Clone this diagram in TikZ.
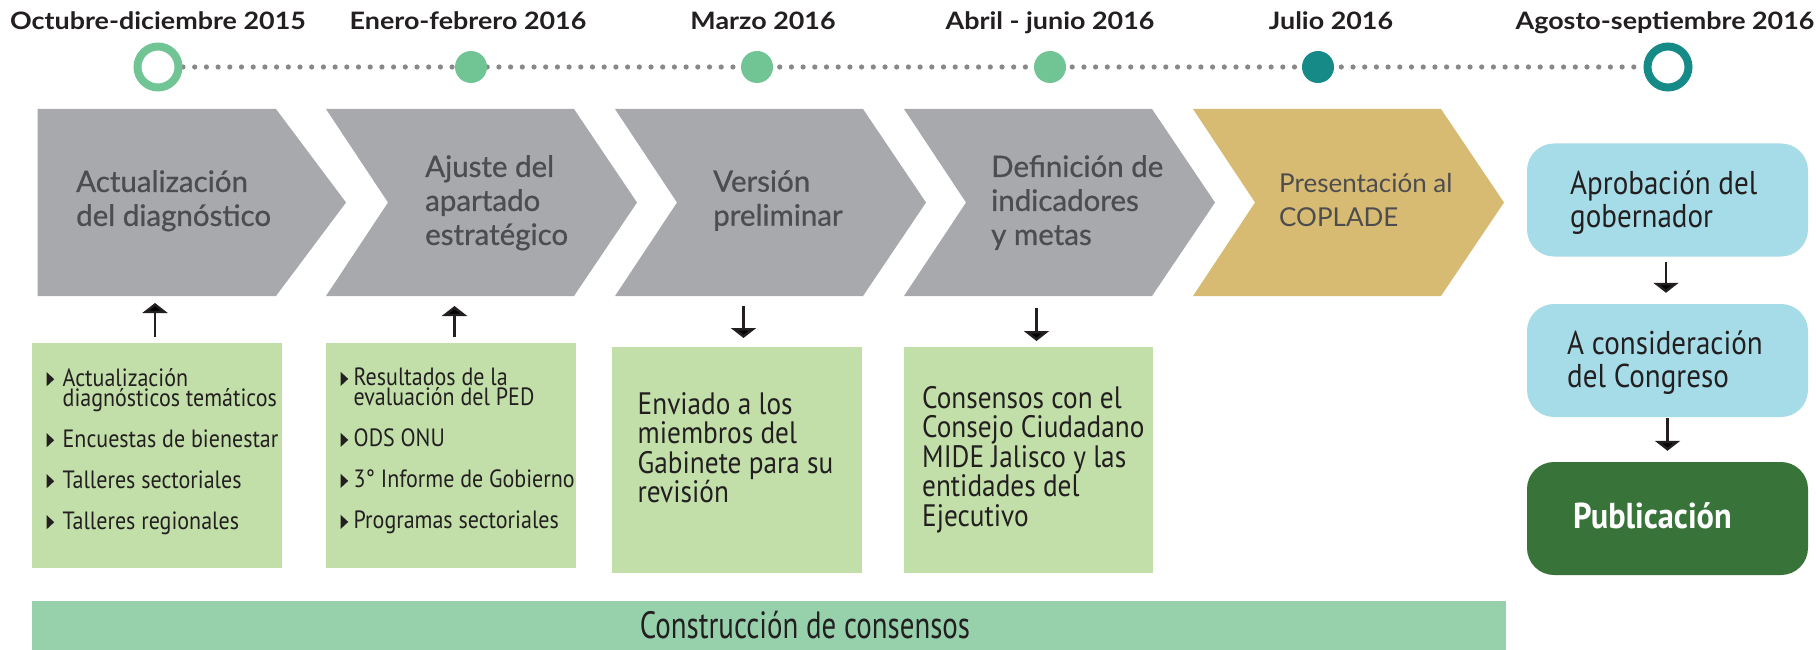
\documentclass[tikz,border=0pt]{standalone}
\usepackage{fontspec}
\setmainfont{Lato}
\newfontfamily\datefont[FakeStretch=1.12]{Lato}
\newfontfamily\chevfont[FakeBold=0.7]{Lato}
\newfontfamily\cond[FakeStretch=0.88]{PT Sans}
\newfontfamily\condwide[FakeStretch=0.76]{PT Sans}
\newfontfamily\condbold[FakeStretch=0.9]{PT Sans}
\usetikzlibrary{arrows.meta}
\definecolor{chgray}{HTML}{A7A9AC}
\definecolor{chtext}{HTML}{4D4D4F}
\definecolor{goldc}{HTML}{D7BB73}
\definecolor{lgreen}{HTML}{C2DFAA}
\definecolor{bargreen}{HTML}{97D1AC}
\definecolor{lblue}{HTML}{A6DCE7}
\definecolor{dgreen}{HTML}{387339}
\definecolor{cgreen}{HTML}{71C594}
\definecolor{tealc}{HTML}{168A87}
\definecolor{dotgray}{HTML}{88888B}
\definecolor{ink}{HTML}{231F20}
\newcommand\bul[1]{\makebox[#1][l]{\tikz[baseline=0pt]\fill[ink] (0pt,0pt) -- (7.5pt,7pt) -- (0pt,14pt) -- cycle;}}
\begin{document}
\lineskiplimit-50pt
\begin{tikzpicture}[x=1pt,y=-1pt,
  date/.style={font=\datefont\bfseries\fontsize{24}{24}\selectfont, text=ink, anchor=base, inner sep=0pt},
  ring/.style={circle, draw=#1, line width=8pt, fill=white, minimum size=41pt, inner sep=0pt},
  dotc/.style={circle, fill=#1, minimum size=32pt, inner sep=0pt},
  dots/.style={draw=dotgray, line width=5.2pt, line cap=round, dash pattern=on 0pt off 11.7pt},
  chev/.style={fill=#1},
  chevtext/.style={font=\chevfont\fontsize{29.5}{34}\selectfont, text=chtext, align=left, anchor=north west, inner sep=0pt},
  gbox/.style={fill=lgreen, anchor=north west, inner sep=0pt},
  listtext/.style={font=\cond\fontsize{25}{20}\selectfont, text=ink, align=left, anchor=north west, inner sep=0pt},
  boxtext/.style={font=\cond\fontsize{31}{29.5}\selectfont, text=ink, align=left, anchor=north west, inner sep=0pt},
  rbox/.style={fill=#1, rounded corners=27pt, minimum width=281pt, minimum height=113pt, inner sep=0pt},
  rtext/.style={font=\cond\fontsize{33}{33}\selectfont, text=ink, align=left, anchor=north west, inner sep=0pt},
  arr/.style={draw=ink, line width=2.8pt, -{Triangle[width=25pt,length=10pt]}}
]
\useasboundingbox (0,0) rectangle (1816,650);

% timeline
\node[date] (d1) at (158,30) {Octubre-diciembre 2015};
\node[date] (d2) at (468,30) {Enero-febrero 2016};
\node[date] (d3) at (763,30) {Marzo 2016};
\node[date] (d4) at (1050,30) {Abril - junio 2016};
\node[date] (d5) at (1331,30) {Julio 2016};
\node[date] (d6) at (1665,30) {Agosto-septiembre 2016};

\coordinate (t1c) at (158,67);
\coordinate (t6c) at (1668,67);
\draw[dots] ([xshift=25pt]t1c) -- ([xshift=-25pt]t6c);
\node[ring=cgreen] (t1) at (t1c) {};
\node[dotc=cgreen] (t2) at (471,67) {};
\node[dotc=cgreen] (t3) at (757,67) {};
\node[dotc=cgreen] (t4) at (1050,67) {};
\node[dotc=tealc] (t5) at (1318,67) {};
\node[ring=tealc] (t6) at (t6c) {};

% chevrons
\fill[chev=chgray] (37.5,109) -- (276,109) -- (346,202.5) -- (276,296) -- (37.5,296) -- cycle;
\fill[chev=chgray] (326,109) -- (574,109) -- (637,202.5) -- (574,296) -- (326,296) -- (388,202.5) -- cycle;
\fill[chev=chgray] (615,109) -- (863,109) -- (926,202.5) -- (863,296) -- (615,296) -- (677,202.5) -- cycle;
\fill[chev=chgray] (904,109) -- (1152,109) -- (1215,202.5) -- (1152,296) -- (904,296) -- (966,202.5) -- cycle;
\fill[chev=goldc] (1193,109) -- (1441,109) -- (1504,202.5) -- (1441,296) -- (1193,296) -- (1255,202.5) -- cycle;

\node[chevtext] (k1) at (76,170) {Actualización\\del diagnóstico};
\node[chevtext] (k2) at (425,155) {Ajuste del\\apartado\\estratégico};
\node[chevtext] (k3) at (713,170) {Versión\\preliminar};
\node[chevtext] (k4) at (991,155) {Definición de\\indicadores\\y metas};
\node[chevtext, font=\fontsize{26}{34}\selectfont] (k5) at (1279,173) {Presentación al\\COPLADE};

\coordinate (k1b) at (155,296);
\coordinate (k2b) at (454.5,296);
\coordinate (k3b) at (743.5,296);
\coordinate (k4b) at (1036.5,296);

% green boxes
\node[gbox, minimum width=250pt, minimum height=225pt] (b1) at (31.5,343) {};
\node[gbox, minimum width=250pt, minimum height=225pt] (b2) at (325.5,343) {};
\node[gbox, minimum width=250pt, minimum height=226pt] (b3) at (612,347) {};
\node[gbox, minimum width=249.5pt, minimum height=226pt] (b4) at (903.5,347) {};

\node[listtext] (l1) at (46.5,368) {\bul{16pt}Actualización\\
\hspace*{16pt}diagnósticos temáticos\\[21pt]
\bul{16pt}Encuestas de bienestar\\[21pt]
\bul{16pt}Talleres sectoriales\\[21pt]
\bul{16pt}Talleres regionales};
\node[listtext] (l2) at (340.5,368) {\bul{13pt}Resultados de la\\
\hspace*{13pt}evaluación del PED\\[21pt]
\bul{13pt}ODS ONU\\[21pt]
\bul{13pt}3° Informe de Gobierno\\[21pt]
\bul{13pt}Programas sectoriales};
\node[boxtext] (l3) at (637.5,392) {Enviado a los\\miembros del\\Gabinete para su\\revisión};
\node[boxtext] (l4) at (922,386) {Consensos con el\\Consejo Ciudadano\\MIDE Jalisco y las\\entidades del\\Ejecutivo};

\draw[arr, shorten <=6pt, shorten >=7pt] (b1.north -| k1b) -- (k1b);
\draw[arr, shorten <=6pt, shorten >=10pt] (b2.north -| k2b) -- (k2b);
\draw[arr, shorten <=10pt, shorten >=9pt] (k3b) -- (b3.north -| k3b);
\draw[arr, shorten <=12pt, shorten >=6pt] (k4b) -- (b4.north -| k4b);

% right column
\node[rbox=lblue] (r1) at (1667.5,200) {};
\node[rbox=lblue] (r2) at (1667.5,360.5) {};
\node[rbox=dgreen] (r3) at (1667.5,518.5) {};
\node[rtext] (rt1) at (1570,171) {Aprobación del\\gobernador};
\node[rtext] (rt2) at (1567,331) {A consideración\\del Congreso};
\node[rtext, text=white, font=\condbold\bfseries\fontsize{36}{36}\selectfont] (rt3) at (1573,502) {Publicación};
\draw[arr, shorten <=5pt, shorten >=11pt] (r1.south -| 1666,0) -- (r2.north -| 1666,0);
\draw[arr, shorten <=1pt, shorten >=11pt] (r2.south -| 1667.5,0) -- (r3.north -| 1667.5,0);

% bottom bar
\node[fill=bargreen, anchor=north west, minimum width=1474pt, minimum height=49pt, inner sep=0pt] (bar) at (32,601) {};
\node[font=\condwide\fontsize{38}{38}\selectfont, text=ink, anchor=base, inner sep=0pt] (bart) at (805,638) {Construcción de consensos};
\end{tikzpicture}
\end{document}
